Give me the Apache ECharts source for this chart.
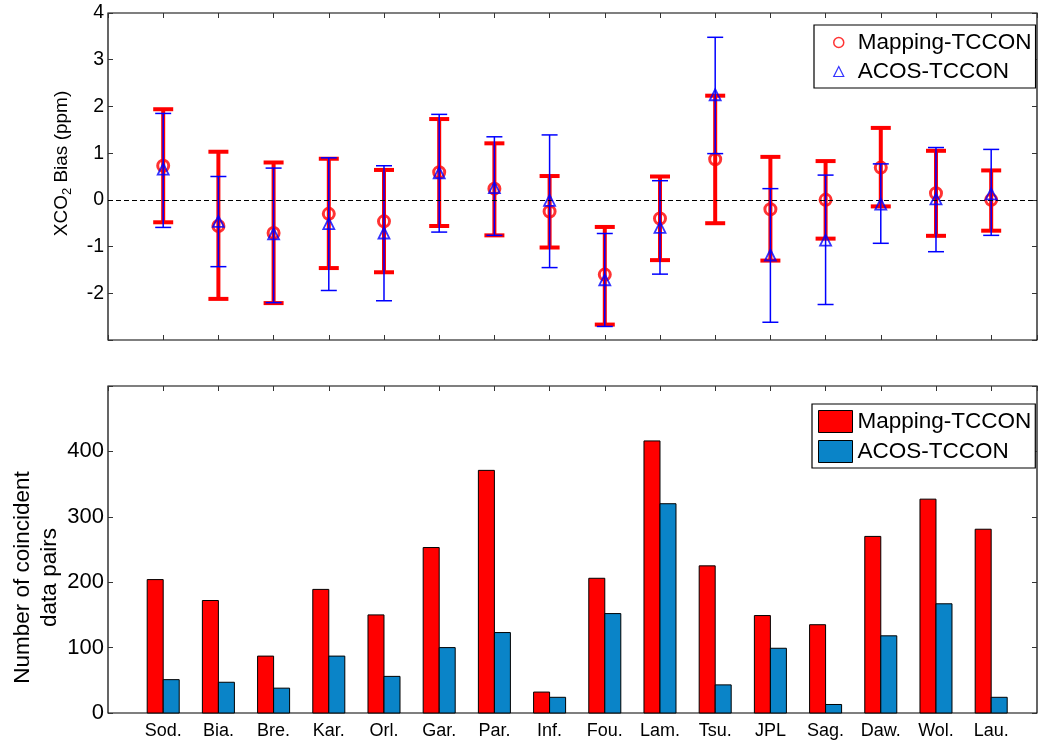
<!DOCTYPE html>
<html>
<head>
<meta charset="utf-8">
<title>XCO2 bias</title>
<script src="https://cdn.jsdelivr.net/npm/echarts@6/dist/echarts.min.js"></script>
<style>
html, body { margin: 0; padding: 0; background: #fff; }
#chart { width: 1040px; height: 742px; }
</style>
</head>
<body>
<div id="chart"></div>
<script>
// sites
var cats = ['Sod.', 'Bia.', 'Bre.', 'Kar.', 'Orl.', 'Gar.', 'Par.', 'Inf.', 'Fou.', 'Lam.', 'Tsu.', 'JPL', 'Sag.', 'Daw.', 'Wol.', 'Lau.'];

// bias (ppm) with lower / upper error bar ends
var mapBias = [0.73, -0.56, -0.71, -0.30, -0.46, 0.59, 0.24, -0.25, -1.60, -0.40, 0.87, -0.20, 0.00, 0.69, 0.14, 0.00];
var mapLow = [-0.48, -2.12, -2.21, -1.46, -1.55, -0.56, -0.76, -1.02, -2.67, -1.29, -0.50, -1.30, -0.83, -0.14, -0.77, -0.66];
var mapHigh = [1.94, 1.03, 0.80, 0.88, 0.64, 1.73, 1.21, 0.51, -0.58, 0.50, 2.23, 0.92, 0.83, 1.54, 1.05, 0.63];
var acosBias = [0.66, -0.46, -0.73, -0.51, -0.71, 0.58, 0.26, -0.01, -1.71, -0.59, 2.25, -1.18, -0.86, -0.09, 0.02, 0.13];
var acosLow = [-0.59, -1.43, -2.20, -1.94, -2.16, -0.69, -0.76, -1.45, -2.71, -1.59, 0.99, -2.62, -2.24, -0.93, -1.11, -0.76];
var acosHigh = [1.85, 0.50, 0.68, 0.90, 0.73, 1.83, 1.35, 1.39, -0.72, 0.41, 3.48, 0.24, 0.53, 0.77, 1.12, 1.08];

// number of coincident data pairs
var mapCount = [204, 172, 87, 189, 150, 253, 371, 32, 206, 416, 225, 149, 135, 270, 327, 281];
var acosCount = [51, 47, 38, 87, 56, 100, 123, 24, 152, 320, 43, 99, 13, 118, 167, 24];

var biasTicks = [-2, -1, 0, 1, 2, 3, 4];
var countTicks = [0, 100, 200, 300, 400];

var FONT = 'Liberation Sans';
var RED = '#ff0000';
var BLUE = '#0000ff';
var BAR_BLUE = '#0a84c8';
var XMAX = 16.83;

function pts(vals) {
    return vals.map(function (v, i) { return [i + 1, v]; });
}
function ranges(lo, hi) {
    return lo.map(function (v, i) { return [i + 1, v, hi[i]]; });
}

// error bar: vertical line + two caps
function errBar(color, width, cap) {
    return function (params, api) {
        var x = api.value(0);
        var a = api.coord([x, api.value(1)]);
        var b = api.coord([x, api.value(2)]);
        var st = { stroke: color, lineWidth: width };
        return {
            type: 'group',
            children: [
                { type: 'line', shape: { x1: a[0], y1: a[1], x2: b[0], y2: b[1] }, style: st },
                { type: 'line', shape: { x1: a[0] - cap, y1: a[1], x2: a[0] + cap, y2: a[1] }, style: st },
                { type: 'line', shape: { x1: b[0] - cap, y1: b[1], x2: b[0] + cap, y2: b[1] }, style: st }
            ]
        };
    };
}

// grouped bar, side -1 = left of the site, +1 = right of it
function barItem(side, color) {
    return function (params, api) {
        var x = api.value(0);
        var base = api.coord([x, 0]);
        var top = api.coord([x, api.value(1)]);
        var w = api.size([0.29, 0])[0];
        return {
            type: 'rect',
            shape: { x: side < 0 ? base[0] - w : base[0], y: top[1], width: w, height: base[1] - top[1] },
            style: { fill: color, stroke: '#000', lineWidth: 1 }
        };
    };
}

function xAxisDef(idx, pos, showLabel) {
    return {
        type: 'value', gridIndex: idx, position: pos,
        min: 0, max: XMAX, interval: 1,
        axisLine: { show: false, onZero: false },
        splitLine: { show: false },
        axisTick: { show: true, inside: true, length: 5, lineStyle: { color: '#333' } },
        axisLabel: {
            show: showLabel, margin: 9, color: '#000', fontFamily: FONT, fontSize: 18,
            showMaxLabel: false, showMinLabel: false,
            formatter: function (v) { return cats[Math.round(v) - 1] || ''; }
        }
    };
}

function yAxisDef(idx, pos, min, max, interval, ticks, size, extra) {
    var o = {
        type: 'value', gridIndex: idx, position: pos,
        min: min, max: max, interval: interval,
        axisLine: { show: false, onZero: false },
        splitLine: { show: false },
        axisTick: { show: true, inside: true, length: 5, lineStyle: { color: '#333' } },
        axisLabel: {
            show: pos === 'left', margin: 4, color: '#000', fontFamily: FONT, fontSize: size,
            formatter: function (v) { return ticks.indexOf(v) >= 0 ? String(v) : ''; }
        }
    };
    for (var k in extra) o[k] = extra[k];
    return o;
}

var chart = echarts.init(document.getElementById('chart'));
var option = {
    animation: false,
    backgroundColor: '#fff',
    grid: [
        { left: 108, top: 13, width: 929, height: 327, outerBoundsMode: 'none', show: true, borderColor: '#000', borderWidth: 1.2 },
        { left: 108, top: 386, width: 929, height: 327, outerBoundsMode: 'none', show: true, borderColor: '#000', borderWidth: 1.2 }
    ],
    xAxis: [
        xAxisDef(0, 'bottom', false),
        xAxisDef(0, 'top', false),
        xAxisDef(1, 'bottom', true),
        xAxisDef(1, 'top', false)
    ],
    yAxis: [
        yAxisDef(0, 'left', -3, 4, 1, biasTicks, 19.5, {
            name: '{a|XCO}{s|2}{a| Bias (ppm)}',
            nameLocation: 'middle', nameRotate: 90, nameGap: 34, nameMoveOverlap: false,
            nameTextStyle: {
                color: '#000', fontFamily: FONT, fontSize: 19, padding: [0, 0, 0, 26],
                rich: {
                    a: { fontFamily: FONT, fontSize: 19, color: '#000' },
                    s: { fontFamily: FONT, fontSize: 13, color: '#000', padding: [11, 0, 0, 0] }
                }
            }
        }),
        yAxisDef(0, 'right', -3, 4, 1, biasTicks, 19.5, {}),
        yAxisDef(1, 'left', 0, 500, 100, countTicks, 22, {
            name: 'Number of coincident\ndata pairs',
            nameLocation: 'middle', nameRotate: 90, nameGap: 45, nameMoveOverlap: false,
            nameTextStyle: {
                color: '#000', fontFamily: FONT, fontSize: 22.5, lineHeight: 27, padding: [0, 56, 0, 0]
            }
        }),
        yAxisDef(1, 'right', 0, 500, 100, countTicks, 22, {})
    ],
    legend: [
        {
            orient: 'vertical', left: 814, top: 25,
            backgroundColor: '#fff', borderColor: '#000', borderWidth: 1.2,
            padding: [6, 4, 5, 19],
            itemWidth: 10, itemHeight: 10, itemGap: 6,
            textStyle: { fontFamily: FONT, fontSize: 22.5, lineHeight: 22, color: '#000', padding: [0, 0, 0, 9] },
            data: [
                { name: 'Mapping-TCCON', icon: 'circle', itemStyle: { color: 'rgba(0,0,0,0)', borderColor: RED, borderWidth: 1.5 } },
                { name: 'ACOS-TCCON', icon: 'triangle', itemStyle: { color: 'rgba(0,0,0,0)', borderColor: BLUE, borderWidth: 1.2 } }
            ]
        },
        {
            orient: 'vertical', left: 812, top: 404,
            backgroundColor: '#fff', borderColor: '#000', borderWidth: 1.2,
            padding: [6, 4, 5, 6],
            itemWidth: 34, itemHeight: 22, itemGap: 7,
            textStyle: { fontFamily: FONT, fontSize: 22.5, lineHeight: 22, color: '#000' },
            data: [
                { name: 'Mapping-TCCON', icon: 'rect', itemStyle: { color: RED, borderColor: '#000', borderWidth: 1, opacity: 1 } },
                { name: 'ACOS-TCCON', icon: 'rect', itemStyle: { color: BAR_BLUE, borderColor: '#000', borderWidth: 1, opacity: 1 } }
            ]
        }
    ],
    series: [
        {
            name: 'Mapping-TCCON range', type: 'custom', xAxisIndex: 0, yAxisIndex: 0,
            renderItem: errBar(RED, 4, 10), data: ranges(mapLow, mapHigh),
            encode: { x: 0, y: [1, 2] }, silent: true, z: 2,
            markLine: {
                silent: true, symbol: 'none', label: { show: false },
                lineStyle: { color: '#000', type: [5, 3], width: 1.2 },
                data: [{ yAxis: 0 }]
            }
        },
        {
            name: 'Mapping-TCCON', type: 'scatter', xAxisIndex: 0, yAxisIndex: 0,
            symbol: 'circle', symbolSize: 11, z: 3,
            itemStyle: { color: 'rgba(0,0,0,0)', borderColor: RED, borderWidth: 3 },
            data: pts(mapBias)
        },
        {
            name: 'ACOS-TCCON range', type: 'custom', xAxisIndex: 0, yAxisIndex: 0,
            renderItem: errBar(BLUE, 1.5, 8), data: ranges(acosLow, acosHigh),
            encode: { x: 0, y: [1, 2] }, silent: true, z: 4
        },
        {
            name: 'ACOS-TCCON', type: 'scatter', xAxisIndex: 0, yAxisIndex: 0,
            symbol: 'triangle', symbolSize: 11, z: 5,
            itemStyle: { color: 'rgba(0,0,0,0)', borderColor: BLUE, borderWidth: 1.8 },
            data: pts(acosBias)
        },
        {
            name: 'Mapping-TCCON', type: 'custom', xAxisIndex: 2, yAxisIndex: 2,
            renderItem: barItem(-1, RED), data: pts(mapCount),
            encode: { x: 0, y: 1 }, silent: true
        },
        {
            name: 'ACOS-TCCON', type: 'custom', xAxisIndex: 2, yAxisIndex: 2,
            renderItem: barItem(1, BAR_BLUE), data: pts(acosCount),
            encode: { x: 0, y: 1 }, silent: true
        }
    ]
};
chart.setOption(option);

window.onresize = function () {
    chart.resize();
};
</script>
</body>
</html>
